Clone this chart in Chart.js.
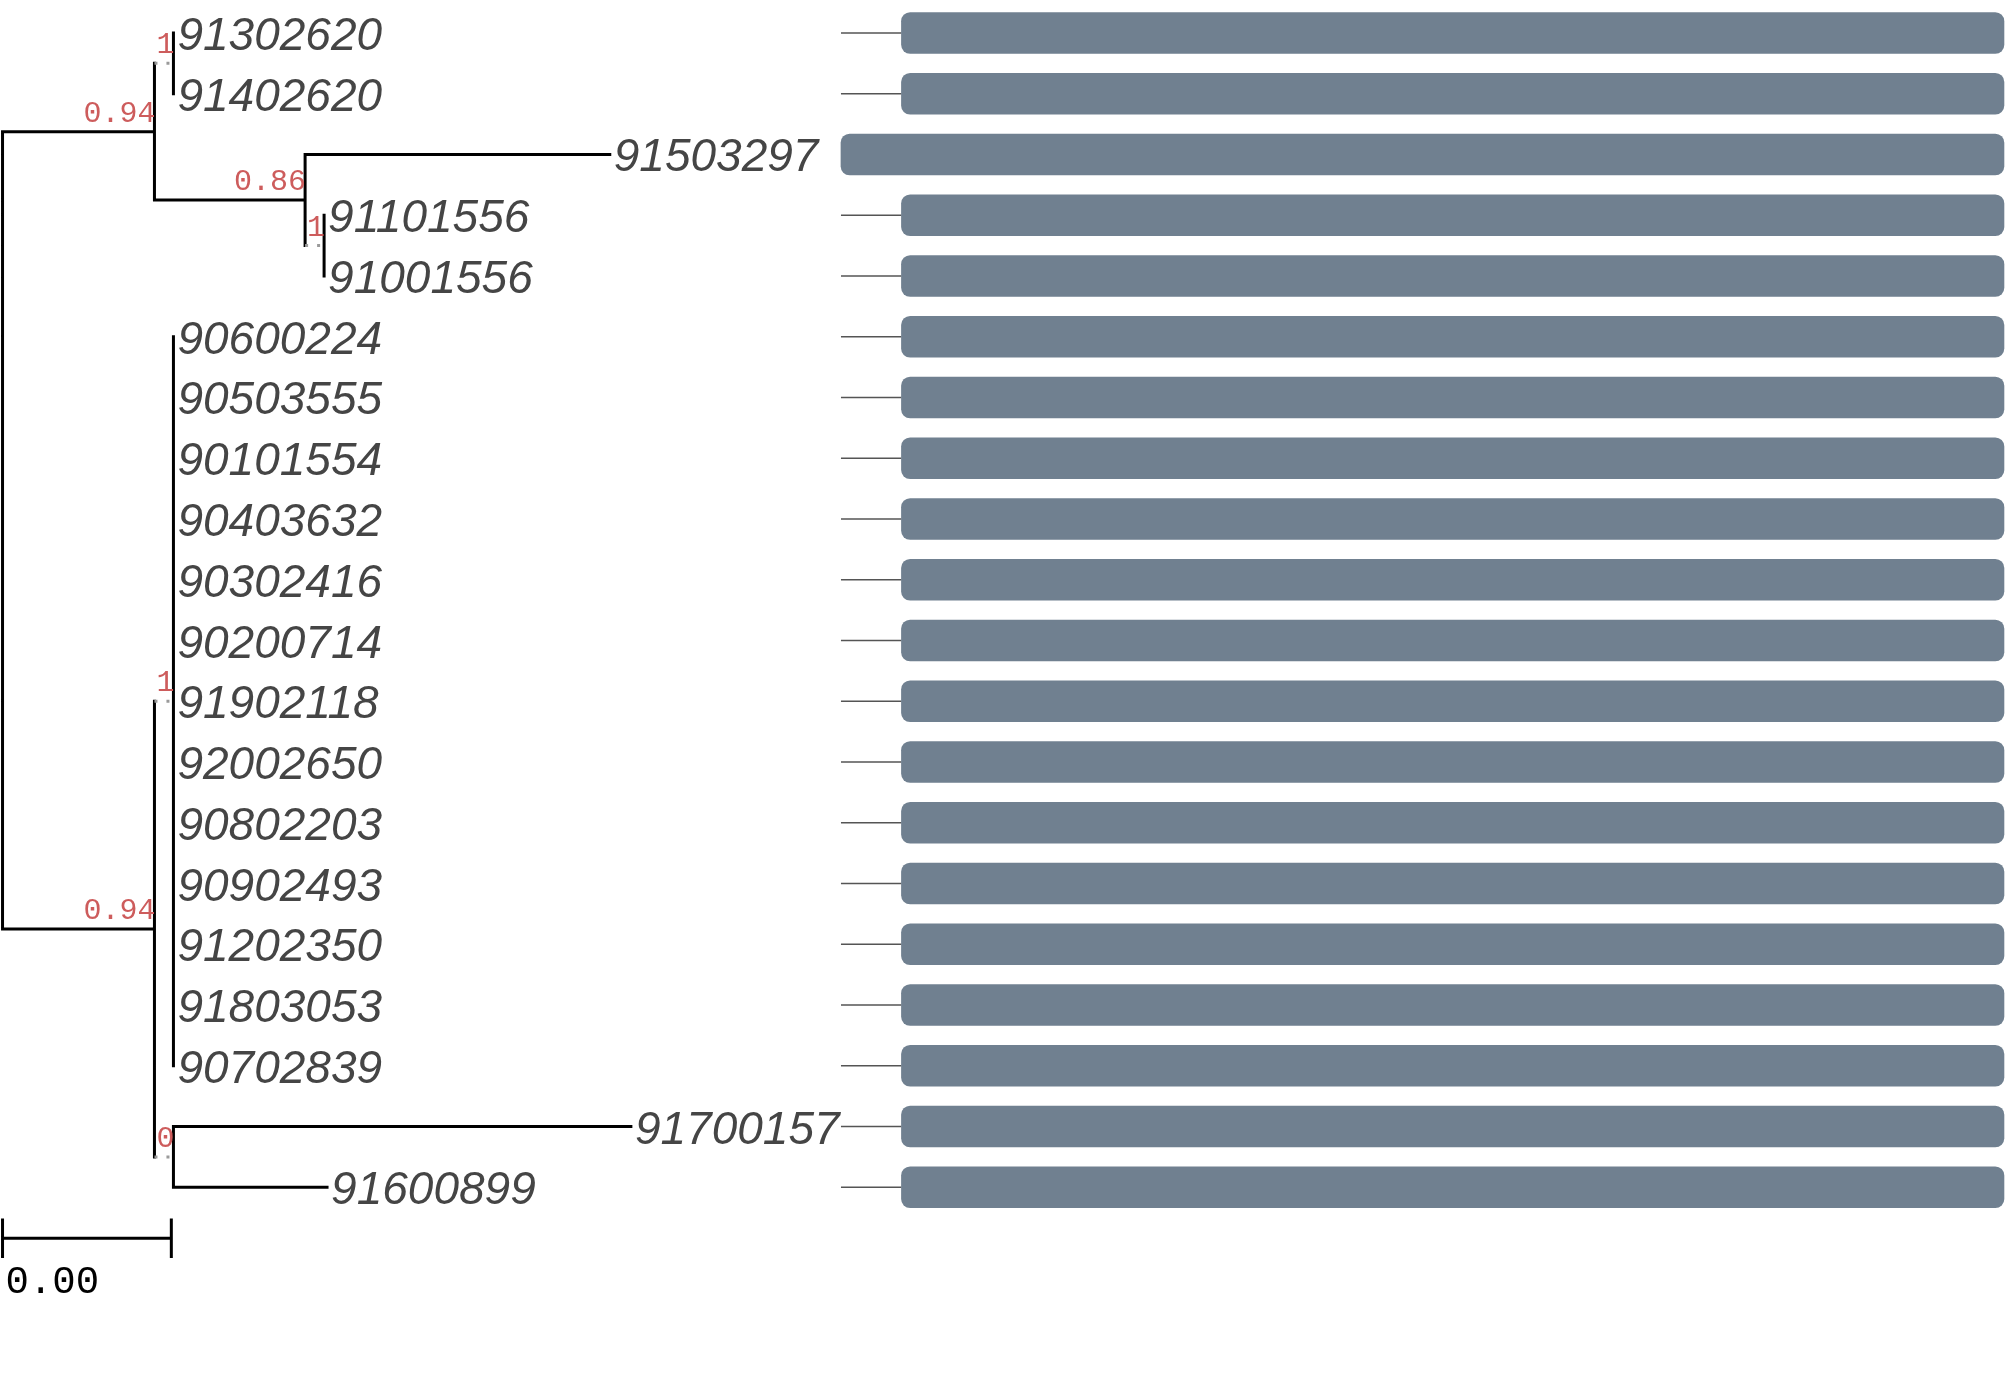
<!DOCTYPE html>
<html lang="en">
<head>
<meta charset="UTF-8" />
<title>Tree with bars</title>
<script src="https://cdn.jsdelivr.net/npm/chart.js"></script>
<style>
  body { margin: 0; padding: 0; background: #fff; }
  .chart-box { width: 2007px; height: 1390px; position: relative; }
</style>
</head>
<body>
<div class="chart-box"><canvas id="tree"></canvas></div>

<script>
  // tips, top to bottom
  const tipLabels = [
    "91302620", "91402620", "91503297", "91101556", "91001556",
    "90600224", "90503555", "90101554", "90403632", "90302416",
    "90200714", "91902118", "92002650", "90802203", "90902493",
    "91202350", "91803053", "90702839", "91700157", "91600899",
  ];
  const tipParents = [
    "A1", "A1", "A2", "A3", "A3",
    "B1", "B1", "B1", "B1", "B1", "B1", "B1", "B1", "B1", "B1", "B1", "B1", "B1",
    "B2", "B2",
  ];
  const tipBranch = [
    0, 0, 0.00722, 0, 0,
    0, 0, 0, 0, 0, 0, 0, 0, 0, 0, 0, 0, 0,
    0.01084, 0.00364,
  ];

  // internal nodes
  const nodeNames = ["root", "A", "A1", "A2", "A3", "B", "B1", "B2"];
  const nodeParents = [null, "root", "A", "A", "A2", "root", "B", "B"];
  const nodeBranch = [0, 0.0036, 0.00045, 0.00357, 0.00045, 0.0036, 0.00045, 0.00045];
  const nodeSupport = [null, 0.94, 1, 0.86, 1, 0.94, 1, 0];

  // bar panel (start / end of each bar)
  const barFrom = [
    5.2, 5.2, 0, 5.2, 5.2,
    5.2, 5.2, 5.2, 5.2, 5.2, 5.2, 5.2, 5.2, 5.2, 5.2, 5.2, 5.2, 5.2,
    5.2, 5.2,
  ];
  const barTo = tipLabels.map(() => 100);

  const scaleBarLength = 0.004;
  const scaleBarRow = 19.84;

  // ---- layout: depth from branch lengths, y = mean of children ----
  const nodeX = {}, nodeY = {}, children = {};
  nodeNames.forEach((n) => (children[n] = []));
  nodeNames.forEach((n, i) => {
    if (nodeParents[i]) children[nodeParents[i]].push({ kind: "node", name: n });
  });
  tipLabels.forEach((t, i) => children[tipParents[i]].push({ kind: "tip", idx: i }));

  function depth(name) {
    const i = nodeNames.indexOf(name);
    if (nodeParents[i] === null) return 0;
    return depth(nodeParents[i]) + nodeBranch[i];
  }
  nodeNames.forEach((n) => (nodeX[n] = depth(n)));
  const tipX = tipLabels.map((t, i) => nodeX[tipParents[i]] + tipBranch[i]);

  function childY(c) { return c.kind === "tip" ? c.idx : layoutY(c.name); }
  function layoutY(name) {
    const ys = children[name].map(childY);
    nodeY[name] = ys.reduce((a, b) => a + b, 0) / ys.length;
    return nodeY[name];
  }
  layoutY("root");

  // ---- segments ----
  const gap = { x: null, y: null };
  const solid = [], dotted = [];
  nodeNames.forEach((n, i) => {
    const ys = children[n].map(childY);
    solid.push({ x: nodeX[n], y: Math.min(...ys) }, { x: nodeX[n], y: Math.max(...ys) }, gap);
    if (nodeParents[i]) {
      const seg = [{ x: nodeX[nodeParents[i]], y: nodeY[n] }, { x: nodeX[n], y: nodeY[n] }, gap];
      if (nodeBranch[i] < 0.001) dotted.push(...seg);
      else solid.push(...seg);
    }
  });
  tipLabels.forEach((t, i) => {
    if (tipBranch[i] > 0)
      solid.push({ x: nodeX[tipParents[i]], y: i }, { x: tipX[i], y: i }, gap);
  });
  // scale bar
  solid.push({ x: 0, y: scaleBarRow }, { x: scaleBarLength, y: scaleBarRow }, gap);
  solid.push({ x: 0, y: scaleBarRow - 0.3 }, { x: 0, y: scaleBarRow + 0.3 }, gap);
  solid.push({ x: scaleBarLength, y: scaleBarRow - 0.3 }, { x: scaleBarLength, y: scaleBarRow + 0.3 }, gap);

  const connectors = [];
  tipLabels.forEach((t, i) => {
    if (barFrom[i] > 0) connectors.push({ x: 0, y: i }, { x: barFrom[i], y: i }, gap);
  });

  // ---- text plugin ----
  const treeText = {
    id: "treeText",
    afterDatasetsDraw(chart) {
      const ctx = chart.ctx, sx = chart.scales.x, sy = chart.scales.y;
      ctx.save();
      ctx.font = "italic 46px 'Liberation Sans', Arial, sans-serif";
      ctx.fillStyle = "#454545";
      ctx.textAlign = "left";
      ctx.textBaseline = "alphabetic";
      tipLabels.forEach((t, i) => {
        ctx.fillText(t, sx.getPixelForValue(tipX[i]) + 4, sy.getPixelForValue(i) + 17);
      });

      ctx.font = "30px 'Liberation Mono', monospace";
      ctx.fillStyle = "#cd5c5c";
      ctx.textAlign = "right";
      nodeNames.forEach((n, i) => {
        if (nodeSupport[i] === null) return;
        ctx.fillText(String(nodeSupport[i]), sx.getPixelForValue(nodeX[n]) + 1, sy.getPixelForValue(nodeY[n]) - 10);
      });

      ctx.font = "39px 'Liberation Mono', monospace";
      ctx.fillStyle = "#000";
      ctx.textAlign = "left";
      ctx.fillText(scaleBarLength.toFixed(2), sx.getPixelForValue(0) + 3, sy.getPixelForValue(scaleBarRow) + 55);
      ctx.restore();
    },
  };

  new Chart(document.getElementById("tree"), {
    type: "scatter",
    data: {
      datasets: [
        {
          type: "bar",
          indexAxis: "y",
          xAxisID: "xb",
          yAxisID: "y",
          data: tipLabels.map((t, i) => ({ y: i, x: [barFrom[i], barTo[i]] })),
          backgroundColor: "#708090",
          borderRadius: 9,
          borderSkipped: false,
          grouped: false,
          barThickness: 41,
          maxBarThickness: 41,
        },
        {
          xAxisID: "xb",
          data: connectors,
          showLine: true,
          spanGaps: false,
          borderColor: "#555",
          borderWidth: 1.5,
          pointRadius: 0,
        },
        {
          data: dotted,
          showLine: true,
          spanGaps: false,
          borderColor: "#9a9a9a",
          borderWidth: 3,
          borderDash: [3, 9],
          pointRadius: 0,
        },
        {
          data: solid,
          showLine: true,
          spanGaps: false,
          borderColor: "#000",
          borderWidth: 3,
          borderCapStyle: "square",
          pointRadius: 0,
        },
      ],
    },
    options: {
      responsive: true,
      maintainAspectRatio: false,
      devicePixelRatio: 1,
      animation: false,
      events: [],
      layout: { padding: 0 },
      plugins: { legend: { display: false }, tooltip: { enabled: false } },
      scales: {
        x: { type: "linear", display: false, min: -0.00006, max: 0.0475, offset: false },
        xb: { type: "linear", axis: "x", position: "bottom", display: false, min: -72.31, max: 100.26, offset: false },
        y: { type: "linear", display: false, reverse: true, min: -0.543, max: 22.337, offset: false },
      },
    },
    plugins: [treeText],
  });
</script>
</body>
</html>
